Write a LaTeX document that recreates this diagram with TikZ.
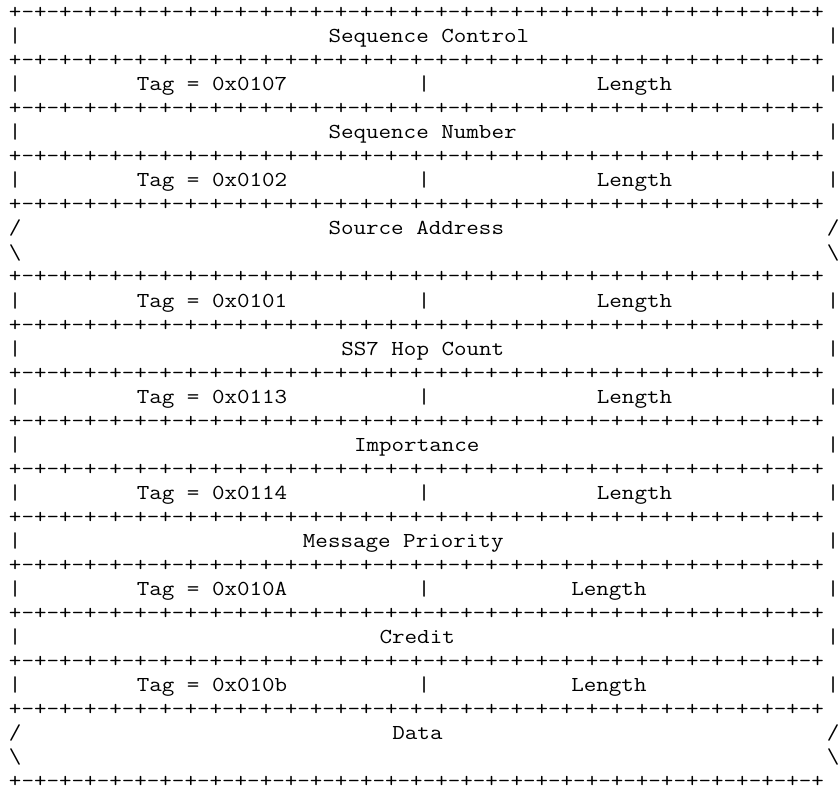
\documentclass[tikz,border=0pt]{standalone}
\usepackage{graphicx}
\newcommand\sx[1]{\scalebox{1.143}[1]{#1}}
\newcommand\fourpm{-+-+-+-+}
\newcommand\sepline{+\fourpm\fourpm\fourpm\fourpm\fourpm\fourpm\fourpm\fourpm}
\tikzset{asc/.style={inner sep=0pt, outer sep=0pt, anchor=base west, text=black,
  font=\fontsize{21.3pt}{24pt}\selectfont\ttfamily}}
% column left edge and row baseline (in px-like points, y downward)
\newcommand\cx[1]{9+12.78*#1}
\newcommand\ry[1]{19+24.0*#1}
\newcommand\cell[4]{\node[asc] (#1) at ({\cx{#2}},{\ry{#3}}) {\sx{#4}};}
\begin{document}
\begin{tikzpicture}[x=1pt,y=-1pt]
\fill[white] (0,0) rectangle (840,794);
\useasboundingbox (0,0) rectangle (840,794);
% separator rows
\foreach \r in {0,2,4,6,8,11,13,15,17,19,21,23,25,27,29,32}{
  \node[asc] (sep\r) at ({\cx{0}},{\ry{\r}}) {\sx{\sepline}};
}
% outer bars
\foreach \r in {1,3,5,7,12,14,16,18,20,22,24,26,28}{
  \node[asc] (lb\r) at ({\cx{0}},{\ry{\r}}) {\sx{|}};
  \node[asc] (rb\r) at ({\cx{64}},{\ry{\r}}) {\sx{|}};
}
% middle bars of tag rows
\foreach \r in {3,7,12,16,20,24,28}{
  \node[asc] (mb\r) at ({\cx{32}},{\ry{\r}}) {\sx{|}};
}
% variable-length field edges
\foreach \r in {9,30}{
  \node[asc] (ls\r) at ({\cx{0}},{\ry{\r}}) {\sx{/}};
  \node[asc] (rs\r) at ({\cx{64}},{\ry{\r}}) {\sx{/}};
}
\foreach \r in {10,31}{
  \node[asc] (lk\r) at ({\cx{0}},{\ry{\r}}) {\sx{\textbackslash}};
  \node[asc] (rk\r) at ({\cx{64}},{\ry{\r}}) {\sx{\textbackslash}};
}
% texts
\cell{seqctl}{25}{1}{Sequence Control}
\cell{tag1}{10}{3}{Tag = 0x0107}
\cell{len1}{46}{3}{Length}
\cell{seqnum}{25}{5}{Sequence Number}
\cell{tag2}{10}{7}{Tag = 0x0102}
\cell{len2}{46}{7}{Length}
\cell{srcaddr}{25}{9}{Source Address}
\cell{tag3}{10}{12}{Tag = 0x0101}
\cell{len3}{46}{12}{Length}
\cell{hop}{26}{14}{SS7 Hop Count}
\cell{tag4}{10}{16}{Tag = 0x0113}
\cell{len4}{46}{16}{Length}
\cell{imp}{27}{18}{Importance}
\cell{tag5}{10}{20}{Tag = 0x0114}
\cell{len5}{46}{20}{Length}
\cell{prio}{23}{22}{Message Priority}
\cell{tag6}{10}{24}{Tag = 0x010A}
\cell{len6}{44}{24}{Length}
\cell{credit}{29}{26}{Credit}
\cell{tag7}{10}{28}{Tag = 0x010b}
\cell{len7}{44}{28}{Length}
\cell{data}{30}{30}{Data}
\end{tikzpicture}
\end{document}
